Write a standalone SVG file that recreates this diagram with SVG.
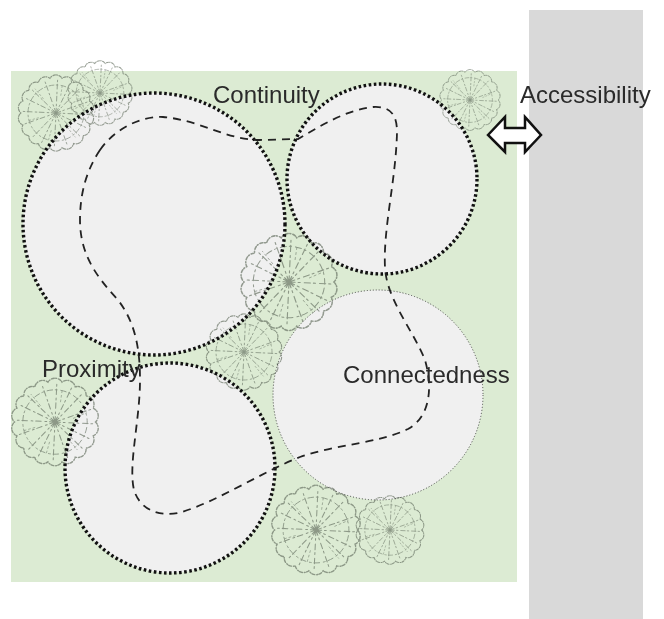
<svg xmlns="http://www.w3.org/2000/svg" xmlns:xlink="http://www.w3.org/1999/xlink" width="664" height="619" viewBox="0 0 664 619">
  <style>
    .zone { fill: #f0f0f0; }
    .ring { fill: none; stroke: #111; stroke-width: 3.4; stroke-dasharray: 2.6 2.5; }
    .ring-thin { fill: none; stroke: #444; stroke-width: 1; stroke-dasharray: 1 2; }
    .path { fill: none; stroke: #222; stroke-width: 1.8; stroke-dasharray: 8 6; }
    .label { font-family: "Liberation Sans", Arial, sans-serif; font-size: 24px; fill: #2a2a2a; }
    .tree { opacity: 0.7; }
  </style>
  <defs>
    <!-- plan-view tree symbol: scalloped canopy with feathery radial branches -->
    <symbol id="tree" viewBox="-50 -50 100 100">
      <g fill="none" stroke="#6a7566" stroke-linecap="round">
        <path stroke-width="1.5" stroke-dasharray="3 1.5 1 2" d="M44 0A9 9 0 0 1 41.35 15.05A9 9 0 0 1 33.71 28.28A9 9 0 0 1 22 38.11A9 9 0 0 1 7.64 43.33A9 9 0 0 1 -7.64 43.33A9 9 0 0 1 -22 38.11A9 9 0 0 1 -33.71 28.28A9 9 0 0 1 -41.35 15.05A9 9 0 0 1 -44 0A9 9 0 0 1 -41.35 -15.05A9 9 0 0 1 -33.71 -28.28A9 9 0 0 1 -22 -38.11A9 9 0 0 1 -7.64 -43.33A9 9 0 0 1 7.64 -43.33A9 9 0 0 1 22 -38.11A9 9 0 0 1 33.71 -28.28A9 9 0 0 1 41.35 -15.05A9 9 0 0 1 44 0Z"/>
        <circle r="35" stroke-width="1" stroke-dasharray="2 4 6 3"/>
        <path stroke-width="1.1" stroke-dasharray="6 3 2 4" d="M0 0L42 2M0 0L37 18M0 0L31 30M0 0L14 40M0 0L-2 42M0 0L-18 37M0 0L-30 31M0 0L-40 14M0 0L-42 -2M0 0L-37 -18M0 0L-31 -30M0 0L-14 -40M0 0L2 -42M0 0L18 -37M0 0L30 -31M0 0L40 -14"/>
        <path stroke-width="0.8" stroke-dasharray="2 3" d="M20 -4L34 -10M14 18L24 30M-6 22L-10 36M-22 6L-36 10M-16 -18L-26 -30M6 -22L8 -36"/>
      </g>
    </symbol>
  </defs>

  <!-- site and street -->
  <rect id="site" x="11" y="71" width="506" height="511" fill="#dcebd3"/>
  <rect id="street" x="529" y="10" width="114" height="609" fill="#d9d9d9"/>

  <!-- zone fills -->
  <g id="zone-fills">
    <circle class="zone" cx="154" cy="224" r="131"/>
    <circle class="zone" cx="382" cy="179" r="95"/>
    <circle class="zone" cx="170" cy="468" r="105"/>
    <circle class="zone" cx="378" cy="395" r="105"/>
  </g>

  <!-- trees -->
  <g id="trees" class="tree">
    <use xlink:href="#tree" x="16" y="73" width="80" height="80"/>
    <use xlink:href="#tree" x="66" y="59" width="68" height="68"/>
    <use xlink:href="#tree" x="438" y="68" width="64" height="64"/>
    <use xlink:href="#tree" x="238" y="231" width="102" height="102"/>
    <use xlink:href="#tree" x="204" y="312" width="80" height="80"/>
    <use xlink:href="#tree" x="9" y="376" width="92" height="92"/>
    <use xlink:href="#tree" x="269" y="483" width="94" height="94"/>
    <use xlink:href="#tree" x="354" y="494" width="72" height="72"/>
  </g>

  <!-- zone outlines -->
  <g id="continuity-zone">
    <circle class="ring" cx="154" cy="224" r="131"/>
  </g>
  <g id="access-zone">
    <circle class="ring" cx="382" cy="179" r="95"/>
  </g>
  <g id="proximity-zone">
    <circle class="ring" cx="170" cy="468" r="105"/>
  </g>
  <g id="connectedness-zone">
    <circle class="ring-thin" cx="378" cy="395" r="105"/>
  </g>

  <!-- connectors: walking loop and access arrow -->
  <g id="connectors">
    <path class="path" d="M100 150C115 128 142 116 163 117C200 120 226 140 260 140L298 139C322 125 346 110 373 107C390 106 397 114 397 132C396 180 383 228 385 268C387 300 413 330 425 360C434 392 428 418 408 429C380 443 338 444 300 457C262 472 220 500 182 512C160 518 140 510 134 490C128 465 140 420 140 380C140 348 135 322 118 300C98 278 80 256 80 220C80 190 88 168 100 150Z"/>
    <polygon id="access-arrow" points="488,135 505,117 505,128 525,128 525,117 541,135 525,152 525,143 505,143 505,152" fill="#fff" stroke="#111" stroke-width="2.5" stroke-linejoin="miter"/>
  </g>

  <!-- labels -->
  <g id="labels">
    <text class="label" x="213" y="103">Continuity</text>
    <text class="label" x="520" y="103">Accessibility</text>
    <text class="label" x="42" y="377">Proximity</text>
    <text class="label" x="343" y="383">Connectedness</text>
  </g>
</svg>
